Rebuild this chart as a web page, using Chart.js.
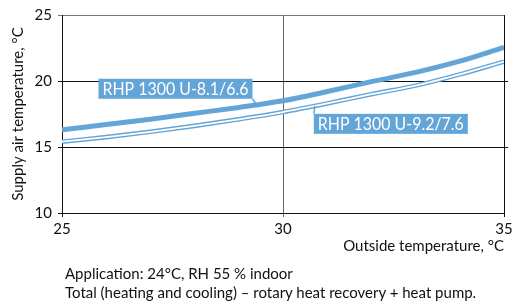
<!DOCTYPE html>
<html>
<head>
<meta charset="utf-8">
<script src="https://cdn.jsdelivr.net/npm/chart.js@4.4.1/dist/chart.umd.min.js"></script>
<style>
    html, body { margin: 0; padding: 0; background: #fff; }
    #wrap { position: relative; width: 517px; height: 306px; }
    #note { position: absolute; left: 65px; top: 264px; font: 15px Lato, sans-serif; line-height: 19px; color: #111; white-space: nowrap; }
</style>
</head>
<body>
<div id="wrap">
    <canvas id="myChart" width="517" height="306"></canvas>
    <div id="note">Application: 24°C, RH 55 % indoor<br>Total (heating and cooling) – rotary heat recovery + heat pump.</div>
</div>
<script>
// outside temperature, °C
var outsideTemp = [25, 26, 27, 28, 29, 30, 31, 32, 33, 34, 35];
// supply air temperature, °C
var supply81 = [16.3, 16.7, 17.1, 17.55, 18.0, 18.5, 19.2, 19.95, 20.65, 21.5, 22.55];
var supply92 = [15.4, 15.75, 16.15, 16.6, 17.1, 17.65, 18.3, 19.0, 19.65, 20.5, 21.47];
var seriesNames = ['RHP 1300 U-8.1/6.6', 'RHP 1300 U-9.2/7.6'];
var xTicks = [25, 30, 35];
var yTicks = [10, 15, 20, 25];
// where the name boxes point at their curve (outside temp)
var labelAt = [29.4, 30.72];

var blue = '#64a5d8';

function pairs(ys) {
    return outsideTemp.map(function (x, i) { return {x: x, y: ys[i]}; });
}

function valueAt(ys, x) {
    for (var i = 0; i < outsideTemp.length - 1; i++) {
        if (x <= outsideTemp[i + 1]) {
            var t = (x - outsideTemp[i]) / (outsideTemp[i + 1] - outsideTemp[i]);
            return ys[i] + t * (ys[i + 1] - ys[i]);
        }
    }
    return ys[ys.length - 1];
}

var callouts = {
    id: 'callouts',
    afterDatasetsDraw: function (chart) {
        var ctx = chart.ctx, xs = chart.scales.x, ys = chart.scales.y, area = chart.chartArea;

        // grid lines poke out a little on the right
        ctx.save();
        ctx.strokeStyle = '#111';
        ctx.lineWidth = 1;
        [15, 20].forEach(function (v) {
            var y = Math.round(ys.getPixelForValue(v)) + 0.5;
            ctx.beginPath();
            ctx.moveTo(area.right, y);
            ctx.lineTo(area.right + 4, y);
            ctx.stroke();
        });
        ctx.restore();

        var spots = [
            {name: seriesNames[0], data: supply81, at: labelAt[0], above: true},
            {name: seriesNames[1], data: supply92, at: labelAt[1], above: false}
        ];
        spots.forEach(function (s) {
            var tx = xs.getPixelForValue(s.at);
            var ty = ys.getPixelForValue(valueAt(s.data, s.at));
            ctx.save();
            ctx.font = '17px Lato, sans-serif';
            var tw = Math.min(ctx.measureText(s.name).width, 146);
            var w = tw + 8, h = 20;
            var bx, by, cx, cy;
            if (s.above) {
                bx = tx - 4 - w; by = ty - 6 - h; cx = bx + w; cy = by + h;
            } else {
                bx = tx - 1; by = ty + 8; cx = bx; cy = by;
            }
            ctx.strokeStyle = blue;
            ctx.lineWidth = 1.5;
            ctx.beginPath();
            ctx.moveTo(cx, cy);
            ctx.lineTo(tx, ty);
            ctx.stroke();
            ctx.fillStyle = blue;
            ctx.fillRect(bx, by, w, h);
            ctx.fillStyle = '#fff';
            ctx.textAlign = 'left';
            ctx.textBaseline = 'middle';
            ctx.fillText(s.name, bx + 4, by + h / 2 + 1, 146);
            ctx.restore();
        });
    }
};

var ctx = document.getElementById('myChart');
var myChart = new Chart(ctx, {
    type: 'line',
    data: {
        datasets: [{
            label: seriesNames[0],
            data: pairs(supply81),
            borderColor: blue,
            borderWidth: 5,
            order: 1
        }, {
            label: seriesNames[1],
            data: pairs(supply92),
            borderColor: blue,
            borderWidth: 4.6,
            order: 3
        }, {
            // white core turns the second curve into a double line
            label: seriesNames[1] + ' core',
            data: pairs(supply92),
            borderColor: '#fff',
            borderWidth: 1.8,
            order: 2
        }]
    },
    options: {
        responsive: false,
        animation: false,
        devicePixelRatio: 1,
        layout: {padding: {top: 12, right: 13, left: 0, bottom: 0}},
        elements: {
            point: {radius: 0},
            line: {cubicInterpolationMode: 'monotone', fill: false, borderCapStyle: 'butt'}
        },
        plugins: {
            legend: {display: false},
            tooltip: {enabled: false}
        },
        scales: {
            x: {
                type: 'linear',
                min: xTicks[0],
                max: xTicks[xTicks.length - 1],
                afterBuildTicks: function (scale) {
                    scale.ticks = xTicks.map(function (v) { return {value: v}; });
                },
                afterFit: function (scale) { scale.height = 93; },
                ticks: {
                    color: '#111',
                    padding: 3,
                    font: {family: 'Lato', size: 15}
                },
                grid: {
                    color: function (c) { return c.tick && c.tick.value === 30 ? '#666' : '#111'; },
                    lineWidth: 1,
                    tickLength: 4
                },
                border: {color: '#111', width: 1},
                title: {
                    display: true,
                    text: 'Outside temperature, °C',
                    align: 'end',
                    color: '#111',
                    font: {family: 'Lato', size: 15},
                    padding: {top: 0, bottom: 51}
                }
            },
            y: {
                min: yTicks[0],
                max: yTicks[yTicks.length - 1],
                afterBuildTicks: function (scale) {
                    scale.ticks = yTicks.map(function (v) { return {value: v}; });
                },
                afterFit: function (scale) { scale.width = 62; },
                ticks: {
                    color: '#111',
                    padding: 6,
                    font: {family: 'Lato', size: 15}
                },
                grid: {
                    color: function (c) { return c.tick && c.tick.value === 25 ? '#777' : '#111'; },
                    lineWidth: 1,
                    tickLength: 4
                },
                border: {color: '#111', width: 1},
                title: {
                    display: true,
                    text: 'Supply air temperature, °C',
                    color: '#111',
                    font: {family: 'Lato', size: 15},
                    padding: {top: 9, bottom: 0}
                }
            }
        }
    },
    plugins: [callouts]
});
</script>
</body>
</html>
